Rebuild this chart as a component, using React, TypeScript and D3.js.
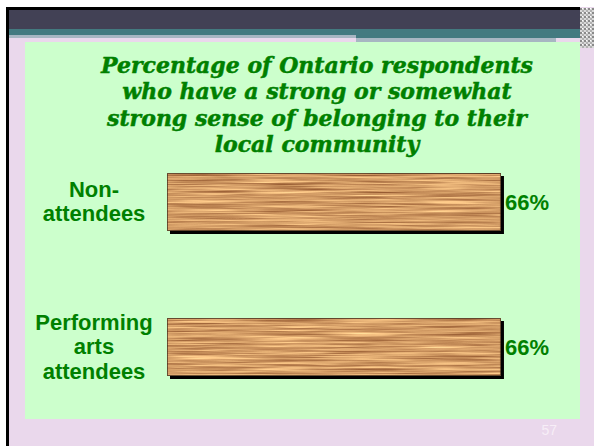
import * as d3 from 'd3'

const titleLines = [
  'Percentage of Ontario respondents',
  'who have a strong or somewhat',
  'strong sense of belonging to their',
  'local community',
]
const categories = ['Non-attendees', 'Performing arts attendees']
const categoryLines = [
  ['Non-', 'attendees'],
  ['Performing', 'arts', 'attendees'],
]
const values = [66, 66]
const slideNumber = '57'

const W = 594
const H = 446
const GREEN_TEXT = '#008000'

export default function App() {
  const x = d3.scaleLinear().domain([0, 100]).range([167, 673])
  const y = d3
    .scaleBand<string>()
    .domain(categories)
    .range([129.5, 419.5])
    .paddingInner(0.6)
    .paddingOuter(0.3)
  const bw = y.bandwidth()
  const lineGap = 24.5

  return (
    <svg
      width={W}
      height={H}
      viewBox={`0 0 ${W} ${H}`}
      style={{ position: 'absolute', left: 0, top: 0, display: 'block' }}
    >
      <defs>
        <filter
          id="wood"
          x="0"
          y="0"
          width="1"
          height="1"
          filterUnits="objectBoundingBox"
          colorInterpolationFilters="sRGB"
        >
          <feTurbulence type="fractalNoise" baseFrequency="0.012 0.55" numOctaves="3" seed="7" result="n" />
          <feColorMatrix
            in="n"
            type="matrix"
            values="0.65 0 0 0 0.5  0.7 0 0 0 0.26  0.55 0 0 0 0.12  0 0 0 0 1"
            result="c"
          />
          <feComposite in="c" in2="SourceGraphic" operator="in" />
        </filter>
        <pattern id="noise" width="4" height="4" patternUnits="userSpaceOnUse">
          <rect width="4" height="4" fill="#d8d8d8" />
          <rect width="2" height="2" fill="#8a8a8a" />
          <rect x="2" y="2" width="2" height="2" fill="#b0b0b0" />
          <rect x="2" y="0" width="1" height="1" fill="#ffffff" />
        </pattern>
      </defs>

      {/* slide frame */}
      <rect width={W} height={H} fill="#ffffff" />
      <rect x={6} y={7} width={W - 6} height={H - 7} fill="#ead8ec" />
      <rect x={6} y={7} width={574} height={3} fill="#000" />
      <rect x={6} y={7} width={3} height={H - 7} fill="#000" />
      <rect x={9} y={10} width={571} height={19} fill="#424155" />
      <rect x={9} y={29} width={347} height={6} fill="#437a80" />
      <rect x={9} y={35} width={347} height={3} fill="#a7b6c2" />
      <rect x={356} y={29} width={224} height={9} fill="#437a80" />
      <rect x={356} y={38} width={200} height={4} fill="#a7b6c2" />
      <rect x={580} y={8} width={14} height={40} fill="url(#noise)" />

      {/* panel */}
      <rect x={25} y={42} width={555} height={377} fill="#ccffcc" />

      <text
        fontFamily="'DejaVu Serif', serif"
        fontWeight="bold"
        fontStyle="italic"
        fontSize={22}
        fill={GREEN_TEXT}
        stroke={GREEN_TEXT}
        strokeWidth={0.5}
        textAnchor="middle"
      >
        {titleLines.map((line, i) => (
          <tspan key={line} x={317} y={73 + i * 26.4}>
            {line}
          </tspan>
        ))}
      </text>

      {categories.map((cat, i) => {
        const top = y(cat) ?? 0
        const cy = top + bw / 2
        const lines = categoryLines[i]
        const x0 = x(0)
        const x1 = x(values[i])
        return (
          <g key={cat}>
            <rect x={x0 + 3} y={top + 3} width={x1 - x0} height={bw} fill="#000" />
            <rect x={x0} y={top} width={x1 - x0} height={bw} fill="#c98b55" filter="url(#wood)" />
            <rect
              x={x0 + 0.5}
              y={top + 0.5}
              width={x1 - x0 - 1}
              height={bw - 1}
              fill="none"
              stroke="#3a2a1a"
              strokeOpacity={0.7}
              strokeWidth={1}
            />
            <text
              fontFamily="'Liberation Sans', Arial, sans-serif"
              fontWeight="bold"
              fontSize={22}
              fill={GREEN_TEXT}
              textAnchor="middle"
            >
              {lines.map((l, j) => (
                <tspan key={j} x={x0 - 73} y={cy + (j - (lines.length - 1) / 2) * lineGap + 7}>
                  {l}
                </tspan>
              ))}
            </text>
            <text
              x={x1 + 4}
              y={cy + 8}
              fontFamily="'Liberation Sans', Arial, sans-serif"
              fontWeight="bold"
              fontSize={22}
              fill={GREEN_TEXT}
            >
              {`${values[i]}%`}
            </text>
          </g>
        )
      })}

      <text
        x={557}
        y={435}
        textAnchor="end"
        fontFamily="'Liberation Sans', Arial, sans-serif"
        fontSize={14}
        fill="#f7eef7"
      >
        {slideNumber}
      </text>
    </svg>
  )
}
